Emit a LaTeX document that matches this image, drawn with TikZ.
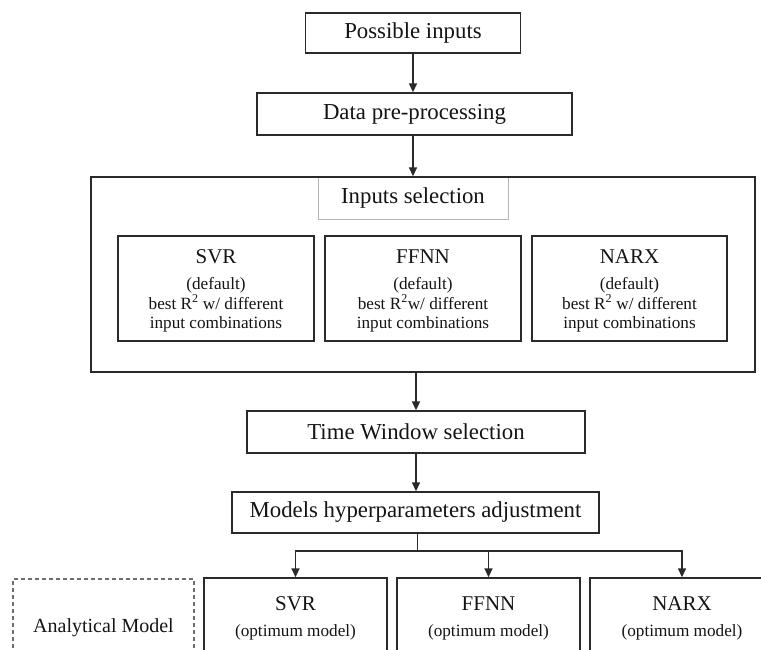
\documentclass[tikz,border=0pt]{standalone}
\usepackage{fontspec}
\setmainfont{Liberation Serif}
\usetikzlibrary{arrows.meta,calc}
\definecolor{linecol}{HTML}{2A2A2A}
\definecolor{txt}{HTML}{141414}
\definecolor{softline}{HTML}{B4B4B4}
\definecolor{dashcol}{HTML}{6E6E6E}
\newcommand{\modeltitle}[1]{{\fontsize{21}{21}\selectfont\rule{0pt}{19pt}#1}}
\begin{document}
\begin{tikzpicture}[x=1pt,y=-1pt,
  box/.style={draw=linecol, line width=1.4pt, inner sep=0pt, text=txt, align=center},
  stepbox/.style={box, font=\fontsize{22.8}{26}\selectfont},
  modelbox/.style={box, font=\fontsize{17.2}{19.5}\selectfont},
  flow/.style={draw=linecol, line width=1.6pt, -{Triangle[length=9pt,width=8pt]}}
]
\useasboundingbox (0,0) rectangle (761,650);
\clip (0,0) rectangle (761,650);

% main pipeline
\node[stepbox, minimum width=215pt, minimum height=40pt] (inputs) at (413,33) {Possible inputs};
\node[stepbox, minimum width=315pt, minimum height=42pt] (prep) at (414.5,114) {Data pre-processing};

% inputs selection stage
\node[draw=softline, line width=0.6pt, inner sep=0pt, text=txt,
      font=\fontsize{22.8}{26}\selectfont,
      minimum width=190pt, minimum height=42pt] (seltitle) at (413,198) {\raisebox{-2pt}{Inputs selection}};
\node[draw=linecol, line width=1.4pt, minimum width=664pt, minimum height=195pt, inner sep=0pt] (selection) at (423,274.5) {};

\node[modelbox, minimum width=196pt, minimum height=105pt] (dsvr) at (216,288.5)
  {\modeltitle{SVR}\\[6.5pt](default)\\best R\textsuperscript{2} w/ different\\input combinations};
\node[modelbox, minimum width=196pt, minimum height=105pt] (dffnn) at (423,288.5)
  {\modeltitle{FFNN}\\[6.5pt](default)\\best R\textsuperscript{2}w/ different\\input combinations};
\node[modelbox, minimum width=195pt, minimum height=105pt] (dnarx) at (629.5,288.5)
  {\modeltitle{NARX}\\[6.5pt](default)\\best R\textsuperscript{2} w/ different\\input combinations};

\node[stepbox, minimum width=338pt, minimum height=42pt] (window) at (416,432) {Time Window selection};
\node[stepbox, minimum width=367pt, minimum height=41pt] (hyper) at (415.5,512.5) {Models hyperparameters adjustment};

% optimum models
\node[modelbox, minimum width=183pt, minimum height=80pt] (osvr) at (295.5,618)
  {{\fontsize{21}{21}\selectfont SVR}\\[6.5pt](optimum model)};
\node[modelbox, minimum width=183pt, minimum height=80pt] (offnn) at (488.5,618)
  {{\fontsize{21}{21}\selectfont FFNN}\\[6.5pt](optimum model)};
\node[modelbox, minimum width=184pt, minimum height=80pt] (onarx) at (682,618)
  {{\fontsize{21}{21}\selectfont NARX}\\[6.5pt](optimum model)};

% analytical model
\node[draw=dashcol, line width=1.1pt, dash pattern=on 4pt off 3pt, inner sep=0pt, text=txt,
      font=\fontsize{20}{24}\selectfont,
      minimum width=181pt, minimum height=98pt] (analytic) at (103.5,628) {Analytical Model};

% connectors
\draw[flow] (inputs.south) -- (inputs.south |- prep.north);
\draw[flow] (prep.south -| inputs.south) -- (inputs.south |- selection.north);
\draw[flow] (window.north |- selection.south) -- (window.north);
\draw[flow] (window.south) -- (window.south |- hyper.north);
\coordinate (split) at ($(hyper.south)+(2,17)$);
\draw[draw=linecol, line width=1.6pt] (hyper.south -| split) -- (split);
\draw[flow] (split) -| (osvr.north);
\draw[flow] (split) -| (offnn.north);
\draw[flow] (split) -| (onarx.north);
\end{tikzpicture}
\end{document}
